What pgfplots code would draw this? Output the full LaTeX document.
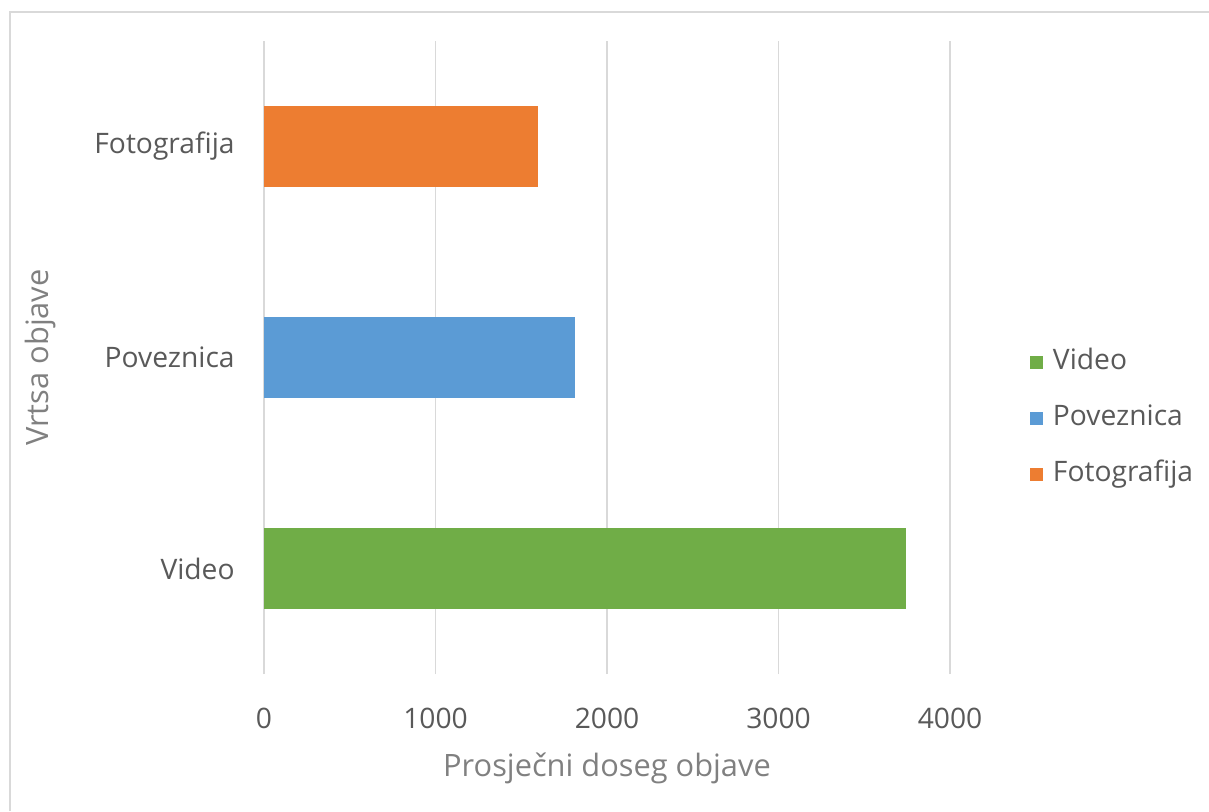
\documentclass[border=0pt]{standalone}
\usepackage{pgfplots}
\pgfplotsset{compat=1.18}
\usepackage{fontspec}
\setmainfont{Open Sans}
\definecolor{cgreen}{HTML}{70AD47}
\definecolor{cblue}{HTML}{5B9BD5}
\definecolor{corange}{HTML}{ED7D31}
\definecolor{cgrid}{HTML}{D9D9D9}
\definecolor{ctick}{HTML}{595959}
\definecolor{ctitle}{HTML}{808080}
\begin{document}
\begin{tikzpicture}
\useasboundingbox (0,0) rectangle (604.5pt,-405.5pt);
\draw[cgrid, line width=1pt] (5pt,-405.5pt) -- (5pt,-6pt) -- (604.5pt,-6pt);
\begin{axis}[
  at={(132pt,-337pt)}, anchor=south west,
  scale only axis, width=343pt, height=316.5pt,
  xbar, bar width=0.38,
  xmin=0, xmax=4000,
  ymin=-0.5, ymax=2.5,
  ytick={0,1,2},
  yticklabels={Video,Poveznica,Fotografija},
  xtick={0,1000,2000,3000,4000},
  /pgf/number format/1000 sep={},
  /pgf/number format/assume math mode=true,
  xmajorgrids, major grid style={cgrid, line width=0.75pt},
  axis line style={draw=none},
  major tick length=0pt,
  tick label style={font=\fontsize{14.1}{16}\selectfont, text=ctick},
  xticklabel style={anchor=center, yshift=-22pt},
  yticklabel style={anchor=east, inner sep=0pt, xshift=-14.5pt},
  xlabel={Prosječni doseg objave},
  ylabel={Vrtsa objave},
  label style={font=\fontsize{15.4}{18}\selectfont, text=ctitle},
  xlabel style={at={(axis description cs:0.5,-0.1485)}, anchor=center},
  ylabel style={at={(axis description cs:-0.3265,0.5)}, anchor=center, rotate=0},
  legend style={at={(axis description cs:1.1166,0.4044)}, anchor=west, draw=none,
    fill=none, inner sep=0pt, outer sep=0pt, row sep=14.6pt, column sep=5pt,
    font=\fontsize{14.1}{16}\selectfont, text=ctick,
    nodes={inner sep=0pt, text height=10.2pt, text depth=3.2pt, anchor=west}},
  legend cell align=left,
  legend image code/.code={\fill[#1, draw=none] (0pt,-3.25pt) rectangle (6.5pt,3.25pt);},
]
\addplot[fill=cgreen, draw=none, bar shift=0pt] coordinates {(3745,0)};
\addplot[fill=cblue, draw=none, bar shift=0pt] coordinates {(1815,1)};
\addplot[fill=corange, draw=none, bar shift=0pt] coordinates {(1595,2)};
\legend{Video,Poveznica,Fotografija}
\end{axis}
\end{tikzpicture}
\end{document}
